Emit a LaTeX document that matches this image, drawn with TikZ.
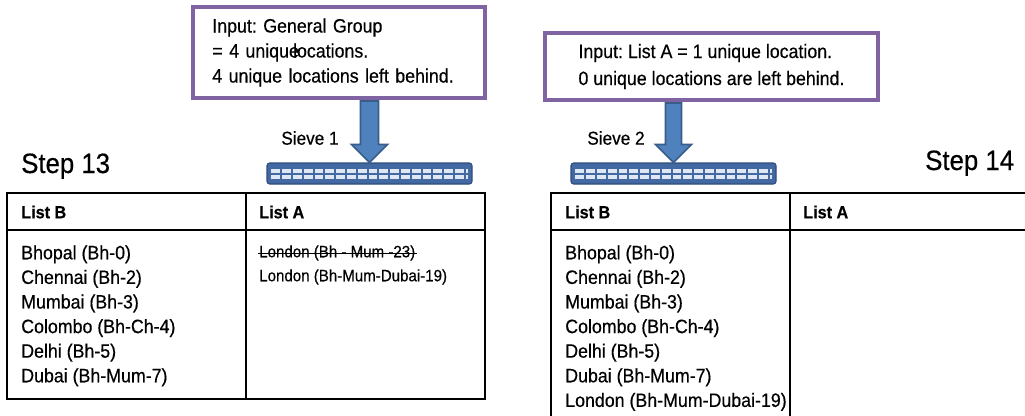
\documentclass[tikz,border=0pt]{standalone}
\usepackage{fontspec}
\setmainfont{Liberation Sans}[FakeStretch=0.92, FakeBold=0.4]
\usetikzlibrary{calc, positioning}
\usepackage{xcolor}
\frenchspacing

\definecolor{boxpurple}{RGB}{128,100,162}
\definecolor{arrowblue}{RGB}{79,129,189}
\definecolor{arrowedge}{RGB}{56,93,138}
\definecolor{sieveblue}{RGB}{66,105,162}
\definecolor{sieveedge}{RGB}{45,77,125}
\definecolor{sievehole}{RGB}{222,231,243}

\tikzset{
  inputbox/.style={draw=boxpurple, line width=3pt, fill=white, align=left,
    font=\fontsize{14.5}{18.75}\selectfont},
  sievebar/.style={draw=sieveedge, fill=sieveblue, line width=0.8pt, rounded corners=2pt,
    minimum width=153.75pt, minimum height=15.75pt, inner sep=0pt},
  sieveholes/.style={draw=sievehole, line width=3pt, dash pattern=on 6.6pt off 1.5pt},
  blockarrow/.style={fill=arrowblue, draw=arrowedge, line width=1.2pt, line join=miter},
  tableframe/.style={draw, line width=1.8pt, inner sep=0pt},
  tableline/.style={line width=1.8pt},
  header/.style={font=\fontsize{13.2}{16}\selectfont\bfseries, inner sep=0pt},
  listtext/.style={font=\fontsize{14.5}{18.45}\selectfont, align=left, inner sep=0pt},
  smalltext/.style={font=\fontsize{12.3}{15}\selectfont, inner sep=0pt},
  sievelabel/.style={font=\fontsize{14}{16}\selectfont, inner sep=0pt},
  steplabel/.style={font=\fontsize{21}{24}\selectfont, inner sep=0pt}
}

\begin{document}
\begin{tikzpicture}[x=0.75pt, y=-0.75pt]
    \useasboundingbox (0,0) rectangle (1025,415);
    \clip (0,0) rectangle (1025,415);
    \fill[white] (0,0) rectangle (1025,415);

    % Inputs of the two sieves
    \node[inputbox, text width=190pt, inner xsep=14.5pt, minimum height=68.25pt] (in1) at (339,52.5)
        {Input: General Group\\= 4 unique\kern-0.3em locations.\\4 unique locations left behind.};
    \node[inputbox, minimum width=249.75pt, minimum height=50.25pt,
        font=\fontsize{14.5}{20.25}\selectfont] (in2) at (711.5,66.5)
        {Input: List A = 1 unique location.\\0 unique locations are left behind.};

    % Sieves
    \node[sievebar] (sieve1) at (369.5,173.5) {};
    \node[sievebar] (sieve2) at (673.5,173.5) {};
    \draw[sieveholes] ($(sieve1.west)+(5,-3)$) -- ($(sieve1.east)+(-5,-3)$);
    \draw[sieveholes] ($(sieve1.west)+(5,3)$) -- ($(sieve1.east)+(-5,3)$);
    \draw[sieveholes] ($(sieve2.west)+(5,-3)$) -- ($(sieve2.east)+(-5,-3)$);
    \draw[sieveholes] ($(sieve2.west)+(5,3)$) -- ($(sieve2.east)+(-5,3)$);
    \node[sievelabel] (s1label) at (310,138) {Sieve 1};
    \node[sievelabel] (s2label) at (616,138) {Sieve 2};

    % Block arrows from input to sieve
    \coordinate (top1) at (sieve1.north |- in1.south);
    \coordinate (top2) at (sieve2.north |- in2.south);
    \draw[blockarrow] ($(top1)+(-9,1)$) -- ($(sieve1.north)+(-9,-18)$) -- ($(sieve1.north)+(-18,-18)$)
        -- (sieve1.north) -- ($(sieve1.north)+(18,-18)$) -- ($(sieve1.north)+(9,-18)$)
        -- ($(top1)+(9,1)$) -- cycle;
    \draw[blockarrow] ($(top2)+(-8,1)$) -- ($(sieve2.north)+(-8,-18)$) -- ($(sieve2.north)+(-18,-18)$)
        -- (sieve2.north) -- ($(sieve2.north)+(18,-18)$) -- ($(sieve2.north)+(8,-18)$)
        -- ($(top2)+(8,1)$) -- cycle;

    % Step labels
    \node[steplabel, anchor=base west] (step13) at (21,173) {Step 13};
    \node[steplabel, anchor=base west] (step14) at (925,170) {Step 14};

    % Table of step 13
    \node[tableframe, minimum width=358.5pt, minimum height=154.5pt] (tab1) at (246,296) {};
    \draw[tableline] ($(tab1.north west)+(0,38)$) -- ($(tab1.north east)+(0,38)$);
    \draw[tableline] ($(tab1.north west)+(240,0)$) -- ($(tab1.south west)+(240,0)$);
    \node[header, anchor=west] (b13) at (21,212) {List B};
    \node[header, anchor=west] (a13) at (259,212) {List A};
    \node[listtext, anchor=north west] (list13) at (21,245)
        {Bhopal (Bh-0)\\Chennai (Bh-2)\\Mumbai (Bh-3)\\Colombo (Bh-Ch-4)\\Delhi (Bh-5)\\Dubai (Bh-Mum-7)};
    \node[smalltext, anchor=west] (struck) at (259,253) {London (Bh - Mum -23)};
    \draw[line width=0.9pt] ($(struck.mid west)+(-1,0)$) -- ($(struck.mid east)+(1,0)$);
    \node[smalltext, anchor=west] (london13) at (259,277) {London (Bh-Mum-Dubai-19)};

    % Table of step 14
    \node[tableframe, minimum width=363pt, minimum height=174pt] (tab2) at (793,309) {};
    \draw[tableline] ($(tab2.north west)+(0,38)$) -- ($(tab2.north east)+(0,38)$);
    \draw[tableline] ($(tab2.north west)+(240,0)$) -- ($(tab2.south west)+(240,0)$);
    \node[header, anchor=west] (b14) at (565,212) {List B};
    \node[header, anchor=west] (a14) at (803,212) {List A};
    \node[listtext, anchor=north west] (list14) at (565,245)
        {Bhopal (Bh-0)\\Chennai (Bh-2)\\Mumbai (Bh-3)\\Colombo (Bh-Ch-4)\\Delhi (Bh-5)\\Dubai (Bh-Mum-7)\\London (Bh-Mum-Dubai-19)};
\end{tikzpicture}
\end{document}
